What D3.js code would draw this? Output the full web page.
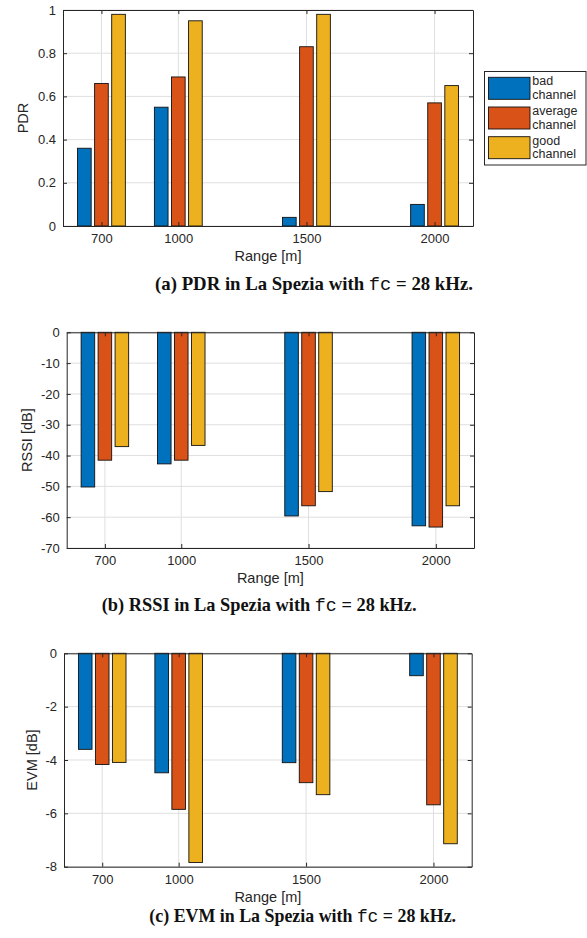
<!DOCTYPE html>
<html>
<head>
<meta charset="utf-8">
<script src="https://cdn.jsdelivr.net/npm/d3@7"></script>
<style>
  html, body { margin: 0; padding: 0; background: #fff; }
  svg { display: block; }
</style>
</head>
<body>
<svg id="chart" width="587" height="938"></svg>
<script>
// ---------------- data ----------------
const ranges = [700, 1000, 1500, 2000];
const seriesNames = ["bad channel", "average channel", "good channel"];
const seriesColors = ["#0072BD", "#D95319", "#EDB120"];

const pdrBad = [0.36, 0.55, 0.04, 0.10];
const pdrAverage = [0.66, 0.69, 0.83, 0.57];
const pdrGood = [0.98, 0.95, 0.98, 0.65];

const rssiBad = [-50.2, -42.7, -59.6, -62.8];
const rssiAverage = [-41.5, -41.5, -56.3, -63.2];
const rssiGood = [-37.1, -36.7, -51.7, -56.3];

const evmBad = [-3.6, -4.48, -4.1, -0.84];
const evmAverage = [-4.17, -5.85, -4.85, -5.68];
const evmGood = [-4.09, -7.84, -5.3, -7.14];

const pdrTicks = [0, 0.2, 0.4, 0.6, 0.8, 1];
const rssiTicks = [-70, -60, -50, -40, -30, -20, -10, 0];
const evmTicks = [-8, -6, -4, -2, 0];

const xLabel = "Range [m]";
const captions = [
  ["(a) PDR in La Spezia with ", "fc", " = 28 kHz."],
  ["(b) RSSI in La Spezia with ", "fc", " = 28 kHz."],
  ["(c) EVM in La Spezia with ", "fc", " = 28 kHz."]
];

// ---------------- layout ----------------
const svg = d3.select("#chart");
const axisColor = "#262626";
const gridColor = "#dfdfdf";
const sansFont = "'Liberation Sans', Arial, Helvetica, sans-serif";
const xDomain = [550, 2150];
const groupOffsets = [-66.7, 0, 66.7];   // data units
const barWidthUnits = 53.3;

const charts = [
  { series: [pdrBad, pdrAverage, pdrGood], yDomain: [0, 1], ticks: pdrTicks, yLabel: "PDR",
    left: 63, right: 473, top: 10, bottom: 226, yLabelX: 28, legend: true,
    caption: captions[0], capX: 314, capY: 290, capW: 318 },
  { series: [rssiBad, rssiAverage, rssiGood], yDomain: [-70, 0], ticks: rssiTicks, yLabel: "RSSI [dB]",
    left: 66.7, right: 474, top: 332.3, bottom: 548, yLabelX: 32, legend: false,
    caption: captions[1], capX: 259.2, capY: 611, capW: 315 },
  { series: [evmBad, evmAverage, evmGood], yDomain: [-8, 0], ticks: evmTicks, yLabel: "EVM [dB]",
    left: 64, right: 471.7, top: 653.3, bottom: 866.7, yLabelX: 37, legend: false,
    caption: captions[2], capX: 302.7, capY: 922, capW: 307 }
];

const fmtBase = d3.format("~g");
const fmt = d => fmtBase(d).replace("\u2212", "-");

charts.forEach(c => {
  const x = d3.scaleLinear().domain(xDomain).range([c.left, c.right]);
  const y = d3.scaleLinear().domain(c.yDomain).range([c.bottom, c.top]);
  const g = svg.append("g");

  // grid
  g.append("g").selectAll("line").data(ranges).join("line")
    .attr("x1", d => x(d)).attr("x2", d => x(d))
    .attr("y1", c.top).attr("y2", c.bottom)
    .attr("stroke", gridColor).attr("stroke-width", 1);
  g.append("g").selectAll("line").data(c.ticks).join("line")
    .attr("x1", c.left).attr("x2", c.right)
    .attr("y1", d => y(d)).attr("y2", d => y(d))
    .attr("stroke", gridColor).attr("stroke-width", 1);

  // bars
  c.series.forEach((vals, si) => {
    g.append("g").selectAll("rect").data(vals.map((v, i) => ({ v, r: ranges[i] }))).join("rect")
      .attr("x", d => x(d.r + groupOffsets[si] - barWidthUnits / 2))
      .attr("width", d => x(d.r + barWidthUnits / 2) - x(d.r - barWidthUnits / 2))
      .attr("y", d => Math.min(y(0), y(d.v)))
      .attr("height", d => Math.abs(y(d.v) - y(0)))
      .attr("fill", seriesColors[si])
      .attr("stroke", "#111").attr("stroke-width", 0.9);
  });

  // axes
  const styleAxis = sel => {
    sel.selectAll("path.domain").attr("stroke", axisColor).attr("stroke-width", 1).attr("fill", "none");
    sel.selectAll(".tick line").attr("stroke", axisColor).attr("stroke-width", 1);
    sel.selectAll(".tick text").attr("fill", axisColor)
      .style("font-family", sansFont).style("font-size", "13px");
  };
  g.append("g").attr("transform", `translate(0,${c.bottom})`)
    .call(d3.axisBottom(x).tickValues(ranges).tickFormat(d3.format("d")).tickSizeInner(-4).tickSizeOuter(0).tickPadding(8))
    .call(styleAxis);
  g.append("g").attr("transform", `translate(0,${c.top})`)
    .call(d3.axisTop(x).tickValues(ranges).tickFormat("").tickSizeInner(-4).tickSizeOuter(0))
    .call(styleAxis);
  g.append("g").attr("transform", `translate(${c.left},0)`)
    .call(d3.axisLeft(y).tickValues(c.ticks).tickFormat(fmt).tickSizeInner(-4).tickSizeOuter(0).tickPadding(7))
    .call(styleAxis);
  g.append("g").attr("transform", `translate(${c.right},0)`)
    .call(d3.axisRight(y).tickValues(c.ticks).tickFormat("").tickSizeInner(-4).tickSizeOuter(0))
    .call(styleAxis);

  // axis labels
  g.append("text").attr("x", (c.left + c.right) / 2).attr("y", c.bottom + 35)
    .attr("text-anchor", "middle").attr("fill", axisColor)
    .style("font-family", sansFont).style("font-size", "14.5px").text(xLabel);
  g.append("text").attr("transform", `translate(${c.yLabelX},${(c.top + c.bottom) / 2}) rotate(-90)`)
    .attr("text-anchor", "middle").attr("fill", axisColor)
    .style("font-family", sansFont).style("font-size", "14.5px").text(c.yLabel);

  // legend
  if (c.legend) {
    const lg = g.append("g");
    lg.append("rect").attr("x", 484.5).attr("y", 71.5).attr("width", 101.5).attr("height", 93.5)
      .attr("fill", "#fff").attr("stroke", axisColor).attr("stroke-width", 1);
    seriesNames.forEach((name, i) => {
      const top = 77.3 + i * 29.7;
      lg.append("rect").attr("x", 488.5).attr("y", top).attr("width", 41.5).attr("height", 22)
        .attr("fill", seriesColors[i]).attr("stroke", "#111").attr("stroke-width", 0.9);
      name.split(" ").forEach((p, j) => {
        lg.append("text").attr("x", 532.3).attr("y", top + 8 + j * 13.5)
          .attr("fill", axisColor)
          .style("font-family", sansFont).style("font-size", "12.5px").text(p);
      });
    });
  }

  // caption
  const cap = svg.append("text").attr("x", c.capX).attr("y", c.capY)
    .attr("text-anchor", "middle").attr("fill", "#111")
    .style("font-family", "'Liberation Serif', 'Times New Roman', serif")
    .style("font-weight", "bold").style("font-size", "16px");
  cap.append("tspan").text(c.caption[0]);
  cap.append("tspan").style("font-family", "'Liberation Mono', 'DejaVu Sans Mono', monospace")
    .style("font-weight", "normal").text(c.caption[1]);
  cap.append("tspan").text(c.caption[2]);
  const w = cap.node().getComputedTextLength();
  if (w > 0) cap.style("font-size", (16 * c.capW / w).toFixed(2) + "px");
});
</script>
</body>
</html>
